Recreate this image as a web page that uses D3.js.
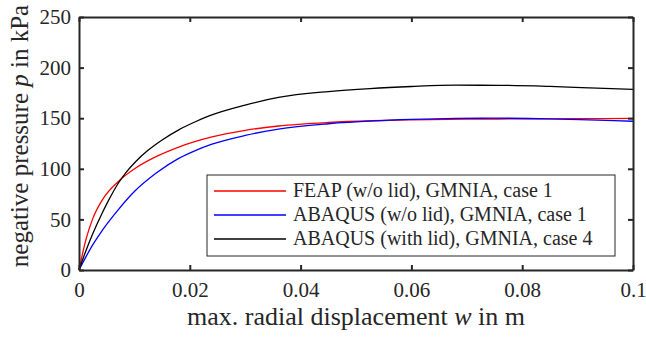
<!DOCTYPE html>
<html>
<head>
<meta charset="utf-8">
<script src="https://cdn.jsdelivr.net/npm/d3@7"></script>
<style>
  body { margin: 0; background: #fff; }
</style>
</head>
<body>
<svg id="canvas" width="646" height="337"></svg>
<script>
// Series: [displacement w in m, pressure p in kPa]
const feapNoLid = [
  [0, 0], [0.00125, 30], [0.0025, 51], [0.0043, 70], [0.007, 87], [0.0103, 101],
  [0.0139, 112], [0.018, 121.5], [0.024, 131.5], [0.03, 138], [0.036, 142.3],
  [0.045, 145.8], [0.053, 147.5], [0.06, 148.4], [0.07, 149], [0.08, 149.3],
  [0.09, 149.5], [0.1, 149.8]
];
const abaqusNoLid = [
  [0, 0], [0.00125, 13], [0.0025, 25], [0.0043, 40], [0.007, 59], [0.01, 77.5],
  [0.014, 96], [0.018, 110.3], [0.021, 118], [0.024, 124.3], [0.03, 133],
  [0.036, 139.3], [0.045, 144.5], [0.053, 147.3], [0.06, 148.8], [0.068, 149.8],
  [0.075, 150], [0.085, 149.4], [0.092, 148.3], [0.1, 147]
];
const abaqusLid = [
  [0, 0], [0.00125, 19], [0.0025, 36], [0.0043, 57.5], [0.0055, 70.5], [0.007, 85],
  [0.0085, 96.5], [0.0103, 107.5], [0.0124, 118], [0.015, 128.5], [0.018, 138.5],
  [0.021, 146.5], [0.0236, 152.5], [0.03, 163], [0.036, 170.5], [0.045, 176.3],
  [0.0525, 179.3], [0.06, 181.3], [0.068, 182.6], [0.076, 182.5], [0.085, 181.4],
  [0.092, 180], [0.1, 178.5]
];

const seriesNames = [
  "FEAP (w/o lid), GMNIA, case 1",
  "ABAQUS (w/o lid), GMNIA, case 1",
  "ABAQUS (with lid), GMNIA, case 4"
];
const seriesColors = ["#ff0000", "#0000ff", "#000000"];
const xTicks = [0, 0.02, 0.04, 0.06, 0.08, 0.1];
const yTicks = [0, 50, 100, 150, 200, 250];

const svg = d3.select("#canvas");
const [ml, mr, mt, mb] = [79, 13, 17, 67];
const w = 646, h = 337;
const serif = '"Liberation Serif"';
const ink = "#262626";

const x = d3.scaleLinear().domain([0, 0.1]).range([ml, w - mr]);
const y = d3.scaleLinear().domain([0, 250]).range([h - mb, mt]);

// Curves
const line = d3.line()
  .x((d) => x(d[0]))
  .y((d) => y(d[1]))
  .curve(d3.curveMonotoneX);

const allSeries = [feapNoLid, abaqusNoLid, abaqusLid];
svg.append("g")
  .selectAll("path")
  .data(allSeries)
  .enter()
  .append("path")
  .attr("d", (d) => line(d))
  .attr("fill", "none")
  .attr("stroke", (d, i) => seriesColors[i])
  .attr("stroke-width", 1.3);

// Axes box with inward ticks
const axisStyle = (g) => {
  g.attr("font-family", null).attr("font-size", null);
  g.select(".domain").attr("stroke", ink).attr("stroke-width", 2);
  g.selectAll(".tick line").attr("stroke", ink).attr("stroke-width", 2);
  g.selectAll(".tick text")
    .style("font-family", serif)
    .style("font-size", "21px")
    .attr("fill", ink);
};

svg.append("g")
  .attr("transform", `translate(0,${y(0)})`)
  .call(d3.axisBottom(x).tickValues(xTicks).tickSizeInner(-5).tickSizeOuter(0)
    .tickFormat((d) => (d === 0 ? "0" : d3.format("~g")(d))))
  .call(axisStyle)
  .call((g) => g.selectAll(".tick text").attr("y", 27).attr("dy", 0));

svg.append("g")
  .attr("transform", `translate(0,${y(250)})`)
  .call(d3.axisTop(x).tickValues(xTicks).tickSizeInner(-5).tickSizeOuter(0).tickFormat(""))
  .call(axisStyle);

svg.append("g")
  .attr("transform", `translate(${x(0)},0)`)
  .call(d3.axisLeft(y).tickValues(yTicks).tickSizeInner(-5).tickSizeOuter(0).tickPadding(8))
  .call(axisStyle);

svg.append("g")
  .attr("transform", `translate(${x(0.1)},0)`)
  .call(d3.axisRight(y).tickValues(yTicks).tickSizeInner(-5).tickSizeOuter(0).tickFormat(""))
  .call(axisStyle);

// Axis labels
const xLabel = svg.append("text")
  .attr("x", (x(0) + x(0.1)) / 2)
  .attr("y", 325)
  .attr("text-anchor", "middle")
  .attr("fill", ink)
  .style("font-family", serif)
  .style("font-size", "26px");
xLabel.append("tspan").text("max. radial displacement ");
xLabel.append("tspan").style("font-style", "italic").text("w");
xLabel.append("tspan").text(" in m");

const yLabel = svg.append("text")
  .attr("transform", `translate(28,136) rotate(-90)`)
  .attr("text-anchor", "middle")
  .attr("fill", ink)
  .style("font-family", serif)
  .style("font-size", "25px");
yLabel.append("tspan").text("negative pressure ");
yLabel.append("tspan").style("font-style", "italic").text("p");
yLabel.append("tspan").text(" in kPa");

// Legend
const legend = svg.append("g").attr("transform", "translate(207,175)");
legend.append("rect")
  .attr("width", 408)
  .attr("height", 81)
  .attr("fill", "#fff")
  .attr("stroke", ink)
  .attr("stroke-width", 1);

const item = legend.selectAll("g.item")
  .data(seriesNames)
  .enter()
  .append("g")
  .attr("class", "item")
  .attr("transform", (d, i) => `translate(0,${16 + 24 * i})`);

item.append("line")
  .attr("x1", 7).attr("x2", 79)
  .attr("stroke", (d, i) => seriesColors[i])
  .attr("stroke-width", 1.5);

item.append("text")
  .attr("x", 86)
  .attr("y", 6)
  .attr("fill", ink)
  .style("font-family", serif)
  .style("font-size", "20px")
  .text((d) => d);
</script>
</body>
</html>
